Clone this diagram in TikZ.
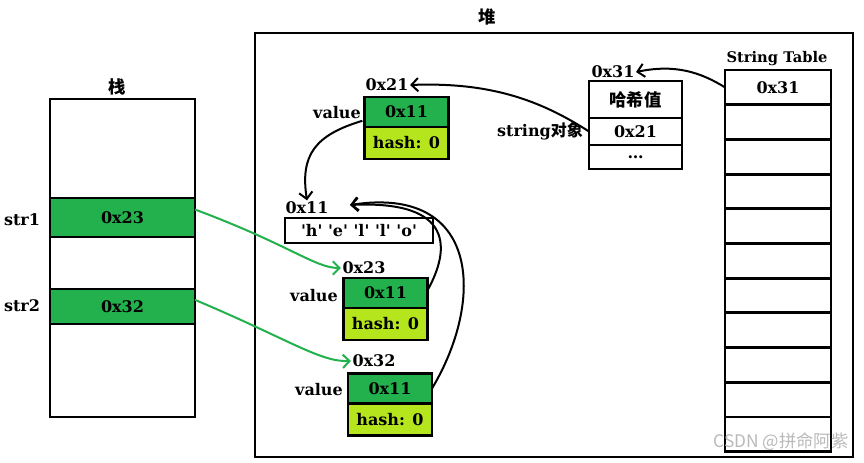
\documentclass[tikz,border=0pt]{standalone}
\usepackage{fontspec}
\setmainfont{DejaVu Serif}
\newfontfamily\zhfont{Noto Sans CJK SC}
\usetikzlibrary{positioning,arrows.meta}
\definecolor{cellgreen}{RGB}{34,177,76}
\definecolor{hashgreen}{RGB}{181,230,29}
\newcommand\qch[1]{\textquotesingle#1\textquotesingle}

\tikzset{
  lbl/.style={inner sep=1pt,font=\bfseries\fontsize{12}{14}\selectfont},
  zh/.style={inner sep=1pt,font=\zhfont\bfseries\fontsize{13}{15}\selectfont},
  cell/.style={draw,line width=2.2pt,outer sep=0pt,lbl,inner sep=0pt},
  valcell/.style={cell,fill=cellgreen,minimum width=63pt,minimum height=22.5pt},
  hashcell/.style={cell,fill=hashgreen,minimum width=63pt,minimum height=24pt},
  stackcell/.style={cell,fill=cellgreen,minimum width=108.75pt},
  tcell/.style={cell,minimum width=79.5pt,minimum height=26pt},
  ptr/.style={line width=1.5pt,-{Straight Barb[length=5pt,width=10pt]}},
  gptr/.style={ptr,draw=cellgreen}
}

\begin{document}
\begin{tikzpicture}[x=0.75pt,y=0.75pt,yscale=-1,xscale=1]
\useasboundingbox (0,0) rectangle (864,463);

% Stack
\node [zh] (zhan) at (117,87) {栈};
\node [cell,minimum width=108.75pt,minimum height=238.5pt] (stack) at (122.5,258) {};
\node [stackcell,minimum height=29.25pt] (s1) at (122.5,217.5) {0x23};
\node [stackcell,minimum height=26.25pt] (s2) at (122.5,306.5) {0x32};
\node [lbl] (n1) at (22,220) {str1};
\node [lbl] (n2) at (22,306) {str2};

% Heap
\node [zh] (dui) at (487,17) {堆};
\node [draw,line width=1.6pt,minimum width=448.5pt,minimum height=318pt] (heap) at (554,245) {};

\node [valcell] (o21v) at (406.5,112) {0x11};
\node [hashcell,below=0pt of o21v] (o21h) {hash: 0};
\node [lbl] (l21) at (387,85) {0x21};
\node [lbl] (v21) at (337,113) {value};

\node [cell,minimum width=111pt,minimum height=18.75pt] (arr) at (359,230.5) {\qch{h} \qch{e} \qch{l} \qch{l} \qch{o}};
\node [lbl] (l11) at (307,208) {0x11};
\coordinate (in11) at (350,205);

\node [valcell] (o23v) at (385.5,293) {0x11};
\node [hashcell,below=0pt of o23v] (o23h) {hash: 0};
\node [lbl] (l23) at (364,268) {0x23};
\node [lbl] (v23) at (314,296) {value};

\node [valcell] (o32v) at (390,388.5) {0x11};
\node [hashcell,below=0pt of o32v] (o32h) {hash: 0};
\node [lbl] (l32) at (374,361) {0x32};
\node [lbl] (v32) at (319,390) {value};

% String object
\node [cell,zh,inner sep=0pt,minimum width=69.75pt,minimum height=27.75pt] (so1) at (635.5,99.5) {哈希值};
\node [cell,minimum width=69.75pt,minimum height=20.25pt,below=0pt of so1] (so2) {0x21};
\node [cell,minimum width=69.75pt,minimum height=18pt,below=0pt of so2] (so3) {\dots};
\node [lbl] (l31) at (613,72) {0x31};
\node [lbl] (sobj) at (540,131) {string{\zhfont 对象}};

% String Table
\node [lbl,font=\bfseries\fontsize{11}{13}\selectfont] (tname) at (777,59) {String Table};
\node [tcell] (t0) at (778,87.35) {0x31};
\foreach \i in {1,...,10}
  \node [tcell] (t\i) at (778,87.35+34.7*\i) {};

\node [font=\zhfont\fontsize{13}{15}\selectfont,text=gray!55] (mark) at (781,442) {CSDN @拼命阿紫};

% Pointers
\draw [gptr] ([yshift=-6pt]s1.east) .. controls (290,245) and (315,268) .. (l23.west);
\draw [gptr] ([yshift=-5pt]s2.east) .. controls (290,340) and (320,362) .. (l32.west);
\draw [ptr] (t0.west) .. controls (700,72) and (675,64) .. (l31.east);
\draw [ptr] (so2.west) .. controls (540,100) and (490,82) .. (l21.east);
\draw [ptr] (v21.south east) .. controls (315,135) and (300,155) .. (l11.north);
\draw [ptr] ([yshift=-2pt]o23v.east) .. controls (450,250) and (455,200) .. (in11);
\draw [ptr] (o32v.east) .. controls (485,300) and (480,185) .. (in11);

\end{tikzpicture}
\end{document}
